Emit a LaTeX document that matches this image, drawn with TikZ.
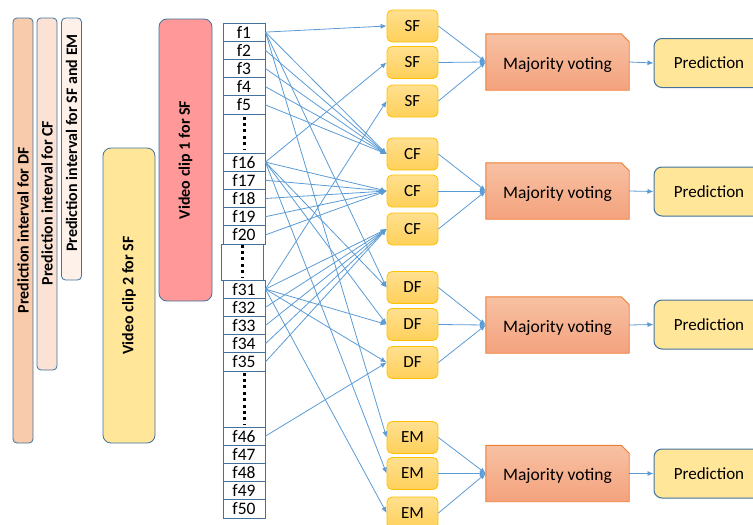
\documentclass[tikz,border=0pt]{standalone}
\usepackage{fontspec}
\setmainfont{Carlito}
\usetikzlibrary{arrows.meta,backgrounds}
\definecolor{conn}{HTML}{5B9BD5}
\definecolor{bord}{HTML}{41719C}
\definecolor{dfbar}{HTML}{F8CBAD}
\definecolor{cfbar}{HTML}{FBE2D5}
\definecolor{sfbar}{HTML}{FDF1EA}
\definecolor{clipa}{HTML}{FF9999}
\definecolor{clipb}{HTML}{FFE699}
\definecolor{featt}{HTML}{FFE08F}
\definecolor{featb}{HTML}{FFD05A}
\definecolor{featbord}{HTML}{FFC000}
\definecolor{mvt}{HTML}{F7C1A3}
\definecolor{mvb}{HTML}{F4A27D}
\definecolor{mvbord}{HTML}{ED7D31}
\definecolor{predfill}{HTML}{FFE699}
\tikzset{
  bar/.style={draw=bord, line width=0.8pt, rounded corners=4pt, inner sep=0pt, rotate=90,
    font=\bfseries\fontsize{16}{18}\selectfont},
  fr/.style={draw=bord, line width=0.9pt, fill=white, minimum width=42pt, minimum height=18.2pt,
    inner sep=0pt, font=\fontsize{17.5}{18}\selectfont},
  dotbox/.style={draw=bord, line width=0.9pt, fill=white, minimum width=42pt, inner sep=0pt},
  dotcol/.style={line width=3pt, dash pattern=on 3pt off 3.4pt},
  feat/.style={draw=featbord, line width=0.8pt, rounded corners=5pt, top color=featt, bottom color=featb,
    minimum width=51pt, minimum height=32pt, inner sep=0pt, font=\fontsize{17}{18}\selectfont},
  mv/.style={minimum width=143pt, minimum height=56pt, inner sep=0pt, font=\fontsize{17.5}{18}\selectfont},
  mvshape/.style={draw=mvbord, line width=0.9pt, top color=mvt, bottom color=mvb},
  pred/.style={draw=bord, line width=1pt, rounded corners=8pt, fill=predfill, minimum width=110pt,
    minimum height=49pt, inner sep=0pt, font=\fontsize{17}{18}\selectfont},
  arr/.style={draw=conn, line width=0.8pt, -{Latex[length=6pt,width=5pt]}},
}
\begin{document}
\begin{tikzpicture}[x=1pt,y=-1pt]
\useasboundingbox (0,0) rectangle (753,525);
\clip (0,0) rectangle (753,525);

% left bars
\node[bar, fill=dfbar, minimum width=425pt, minimum height=20pt] (bdf) at (23,230.5) {Prediction interval for DF};
\node[bar, fill=cfbar, minimum width=352pt, minimum height=20pt] (bcf) at (47,194) {Prediction interval for CF\hspace*{18pt}};
\node[bar, fill=sfbar, minimum width=262pt, minimum height=20pt] (bsf) at (71.5,149) {\hspace*{12pt}Prediction interval for SF and EM};
\node[bar, fill=clipb, rounded corners=8pt, minimum width=295pt, minimum height=52pt] (vc2) at (129,295.5) {Video clip 2 for SF};
\node[bar, fill=clipa, rounded corners=8pt, minimum width=282pt, minimum height=53pt] (vc1) at (185.5,160) {Video clip 1 for SF};

% frames
\foreach \i [count=\k from 0] in {1,...,5}
  \node[fr] (f\i) at (244,32.1+18.2*\k) {f\i};
\foreach \i [count=\k from 0] in {16,...,20}
  \node[fr] (f\i) at (244,162.1+18.2*\k) {f\i};
\foreach \i [count=\k from 0] in {31,...,35}
  \node[fr] (f\i) at (244,289.1+18.2*\k) {f\i};
\foreach \i [count=\k from 0] in {46,...,50}
  \node[fr] (f\i) at (244,436.1+18.2*\k) {f\i};
\node[dotbox, minimum height=39pt] (d1) at (244,133.5) {};
\node[dotbox, minimum height=36pt] (d2) at (242,262) {};
\node[dotbox, minimum height=56pt] (d3) at (244,399) {};
\draw[dotcol] ([yshift=-3pt]d1.north) -- ([yshift=3pt]d1.south);
\draw[dotcol] ([yshift=-1pt]d2.north) -- ([yshift=2pt]d2.south);
\draw[dotcol] ([yshift=-2pt]d3.north) -- ([yshift=3pt]d3.south);

% feature classifiers
\foreach \n/\t/\y in {sf1/SF/26, sf2/SF/62.5, sf3/SF/101,
                     cf1/CF/154, cf2/CF/191, cf3/CF/229,
                     df1/DF/287.5, df2/DF/324.5, df3/DF/362.5,
                     em1/EM/437.5, em2/EM/473.5, em3/EM/513}
  \node[feat] (\n) at (412.5,\y) {\t};

% majority voting
\foreach \n/\y in {mv1/62, mv2/191, mv3/325, mv4/473.5}{
  \node[mv] (\n) at (557.5,\y) {\raisebox{-3pt}[12pt][4pt]{Majority voting}};
  \begin{scope}[on background layer]
    \path[mvshape] (\n.south west) -- (\n.north west) -- ([xshift=-8pt]\n.north east)
      -- ([yshift=-8pt]\n.north east) -- (\n.south east) -- cycle;
  \end{scope}
}

% predictions
\foreach \n/\y in {p1/63, p2/191.5, p3/324.5, p4/473.5}
  \node[pred] (\n) at (709,\y) {Prediction};

% frame -> classifier connectors
\foreach \a/\b in {f1/sf1, f1/cf1, f1/df1, f1/em1,
                   f2/cf1, f3/cf1, f4/cf1, f5/cf1,
                   f16/sf2, f16/cf2, f16/df1, f16/df2, f16/em2,
                   f17/cf2, f18/cf2, f19/cf2, f20/cf2,
                   f31/sf3, f31/cf3, f31/df2, f31/df3, f31/em3,
                   f32/cf3, f33/cf3, f34/cf3, f35/cf3,
                   f46/df3}
  \draw[arr] (\a.east) -- (\b.west);

% classifier -> majority voting
\foreach \a/\b in {sf1/mv1, sf2/mv1, sf3/mv1, cf1/mv2, cf2/mv2, cf3/mv2,
                   df1/mv3, df2/mv3, df3/mv3, em1/mv4, em2/mv4, em3/mv4}
  \draw[arr] (\a.east) -- (\b.west);

% majority voting -> prediction
\foreach \a/\b in {mv1/p1, mv2/p2, mv3/p3, mv4/p4}
  \draw[arr] (\a.east) -- (\b.west);
\end{tikzpicture}
\end{document}
